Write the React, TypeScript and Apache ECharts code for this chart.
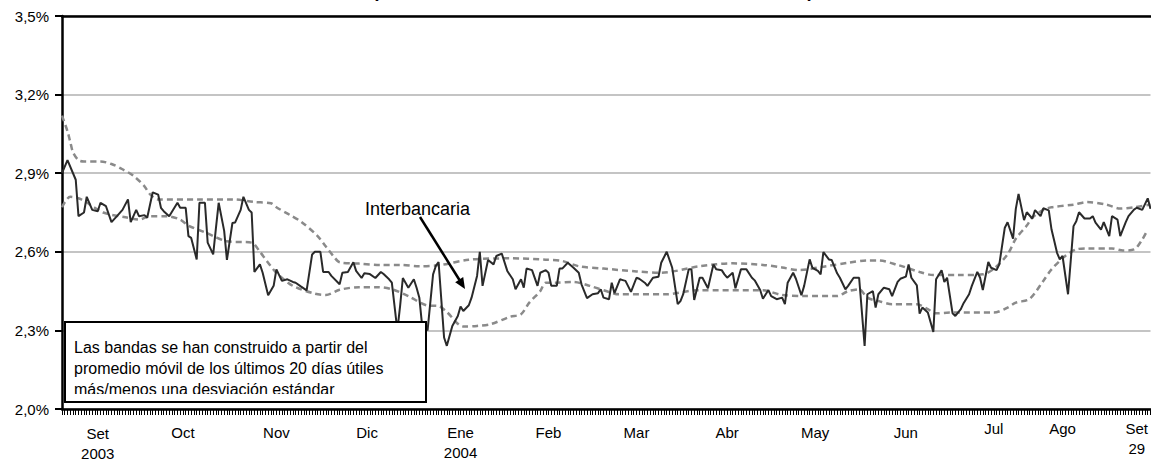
import React, { useEffect, useRef } from "react";
import * as echarts from "echarts";

const FONT = '"Liberation Sans", Arial, Helvetica, sans-serif';

const titleText = "(1 de setiembre de 2003 al 29 de setiembre de 2004)";
const seriesName = "Interbancaria";
const noteLines = [
  "Las bandas se han construido a partir del",
  "promedio móvil de los últimos 20 días útiles",
  "más/menos una desviación estándar",
];

// y axis ticks (percent)
const yTickValues = [2.0, 2.3, 2.6, 2.9, 3.2, 3.5];

// x axis: calendar days from the start of the axis
const axisDays = 396;
const monthLabels = ["Set", "Oct", "Nov", "Dic", "Ene", "Feb", "Mar", "Abr", "May", "Jun", "Jul", "Ago", "Set"];
const monthSubLabels = ["2003", "", "", "", "2004", "", "", "", "", "", "", "", "29"];
const monthDays = [13, 44, 78, 111, 145, 177, 209, 242, 274, 307, 339, 364, 391];

// interbank rate (%), business days
const rateDays = [
  0, 2, 5, 6, 8, 9, 11, 13, 14, 16, 18, 20, 22, 24, 25, 27, 28, 30, 31, 33, 35, 36, 37, 39, 42, 43, 45, 46, 47, 49,
  50, 52, 53, 55, 56, 57, 59, 60, 62, 63, 65, 66, 68, 69, 70, 72, 73, 75, 77, 78, 80, 82, 84, 85, 87, 89, 91, 92, 94, 95,
  97, 98, 101, 102, 104, 106, 107, 109, 110, 112, 114, 116, 117, 119, 120, 122, 123, 124, 126, 128, 129, 130, 131, 133, 135, 136, 137,
  139, 140, 142, 144, 145, 146, 148, 149, 151, 152, 153, 155, 157, 158, 160, 162, 164, 165, 167, 168, 169, 171, 173, 174,
  176, 177, 178, 180, 181, 182, 184, 186, 188, 189, 191, 193, 195, 196, 197, 199, 200, 201, 203, 204, 205, 207, 209, 210, 212,
  213, 215, 217, 218, 220, 222, 224, 225, 226, 228, 229, 230, 232, 233, 235, 237, 238, 240, 241, 242, 244, 245, 247, 248, 249,
  251, 252, 254, 255, 257, 258, 260, 262, 263, 264, 266, 267, 269, 270, 272,
  273, 275, 276, 277, 279, 280, 282, 283, 285, 286, 288, 289, 290, 292, 293, 295, 296, 297, 299, 301, 302, 304, 305, 307, 308,
  309, 311, 312, 313, 315, 317, 318, 320, 321, 322, 324, 325, 327, 328, 330, 331, 333, 334, 335, 337, 338, 340, 341, 343, 344,
  346, 347, 348, 350, 351, 353, 354, 356, 357, 359, 360, 361, 362, 363, 364, 366, 368, 369, 370, 372, 374, 375, 376, 378, 379,
  381, 382, 384, 385, 387, 388, 390, 391, 393, 395, 396,
];
const rateValues = [
  2.9, 2.95, 2.875, 2.736, 2.75, 2.81, 2.76, 2.755, 2.787, 2.774, 2.713, 2.736, 2.76, 2.8, 2.713, 2.76, 2.736, 2.74, 2.73, 2.827,
  2.818, 2.768, 2.755, 2.736, 2.787, 2.768, 2.768, 2.66, 2.653, 2.571, 2.787, 2.787, 2.635, 2.59, 2.69, 2.787, 2.68, 2.569, 2.71, 2.712,
  2.76, 2.81, 2.76, 2.75, 2.523, 2.552, 2.52, 2.434, 2.47, 2.533, 2.489, 2.495, 2.485, 2.482, 2.467, 2.453, 2.59, 2.6, 2.6, 2.523,
  2.523, 2.508, 2.476, 2.52, 2.523, 2.56, 2.527, 2.5, 2.518, 2.515, 2.5, 2.523, 2.515, 2.495, 2.482, 2.3, 2.393, 2.5, 2.463, 2.495,
  2.463, 2.425, 2.32, 2.3, 2.514, 2.546, 2.561,
  2.273, 2.241, 2.317, 2.355, 2.391, 2.374, 2.396, 2.425, 2.508, 2.6, 2.47, 2.569, 2.552, 2.584, 2.593, 2.527, 2.495, 2.457, 2.495, 2.463,
  2.536, 2.53, 2.47, 2.52, 2.53, 2.52, 2.47, 2.47, 2.536, 2.536, 2.558, 2.54, 2.52, 2.476, 2.423, 2.438, 2.442, 2.457, 2.425, 2.419,
  2.482, 2.442, 2.495, 2.492, 2.489, 2.447, 2.501, 2.497, 2.482, 2.47, 2.501, 2.505, 2.558, 2.6, 2.539, 2.4, 2.412, 2.438, 2.533, 2.533,
  2.416, 2.501, 2.501, 2.461, 2.552, 2.533, 2.53, 2.514, 2.501, 2.52, 2.461, 2.533, 2.533, 2.533, 2.501, 2.491, 2.454, 2.421, 2.454, 2.431,
  2.419, 2.425, 2.4, 2.482, 2.52, 2.497, 2.434, 2.47, 2.571,
  2.539, 2.527, 2.514, 2.599, 2.571, 2.569, 2.518, 2.501, 2.457, 2.47, 2.501, 2.501, 2.501, 2.241, 2.438, 2.45, 2.387, 2.438, 2.463, 2.457,
  2.431, 2.485, 2.497, 2.505, 2.552, 2.501, 2.472, 2.364, 2.387, 2.368, 2.294, 2.495, 2.53, 2.485, 2.501, 2.365, 2.355, 2.381, 2.404, 2.438,
  2.47, 2.523, 2.501, 2.454, 2.561, 2.539, 2.53, 2.552, 2.692, 2.713, 2.65, 2.764, 2.821, 2.721, 2.751, 2.727, 2.759, 2.736, 2.766, 2.758,
  2.685, 2.641, 2.596, 2.571, 2.584, 2.438, 2.698, 2.717, 2.751, 2.727, 2.727, 2.736, 2.711, 2.685, 2.713, 2.66, 2.736, 2.723, 2.66, 2.713,
  2.736, 2.761, 2.768, 2.76, 2.804, 2.764,
];

// upper band: moving average + 1 std dev
const upperDays = [
  0, 2, 3, 4, 6, 8, 14, 18, 22, 26, 30, 32, 35, 50, 62, 70, 76, 78, 83, 87, 93, 96, 99, 101, 108, 116, 123, 130, 138, 148,
  163, 176, 182, 188, 197, 209, 218, 232, 244, 255, 262, 268, 278, 286, 293, 297, 304, 312, 317, 326, 335, 339, 344, 347, 351,
  353, 357, 360, 368, 373, 380, 385, 390, 396,
];
const upperValues = [
  3.12, 3.06, 3.02, 2.98, 2.95, 2.945, 2.945, 2.935, 2.915, 2.89, 2.85, 2.82, 2.8, 2.8, 2.8, 2.79, 2.785, 2.77, 2.74, 2.715,
  2.66, 2.62, 2.58, 2.56, 2.555, 2.55, 2.55, 2.545, 2.55, 2.57, 2.575, 2.57, 2.565, 2.545, 2.536, 2.525, 2.52, 2.545, 2.556, 2.55,
  2.54, 2.53, 2.545, 2.558, 2.567, 2.567, 2.55, 2.523, 2.511, 2.511, 2.514, 2.535, 2.59, 2.65, 2.7, 2.73, 2.76, 2.77, 2.78, 2.79,
  2.78, 2.765, 2.77, 2.78,
];

// lower band: moving average - 1 std dev
const lowerDays = [
  0, 3, 7, 15, 24, 28, 32, 38, 43, 46, 53, 55, 60, 69, 72, 75, 78, 84, 92, 96, 101, 108, 115, 120, 126, 133, 137, 140, 146, 151,
  156, 163, 167, 170, 174, 176, 180, 186, 192, 201, 203, 220, 231, 255, 262, 270, 282, 286, 290, 293, 297, 302, 311, 315, 318,
  323, 339, 344, 347, 352, 357, 360, 365, 369, 373, 382, 386, 390, 393, 395,
];
const lowerValues = [
  2.77, 2.81, 2.8, 2.75, 2.73, 2.723, 2.736, 2.736, 2.723, 2.7, 2.67, 2.66, 2.64, 2.635, 2.6, 2.558, 2.52, 2.47, 2.44, 2.435,
  2.455, 2.465, 2.465, 2.457, 2.431, 2.395, 2.393, 2.37, 2.315, 2.317, 2.324, 2.352, 2.362, 2.406, 2.45, 2.482, 2.482, 2.485, 2.47, 2.44,
  2.438, 2.438, 2.453, 2.453, 2.435, 2.431, 2.431, 2.45, 2.457, 2.425, 2.412, 2.4, 2.4, 2.381, 2.365, 2.368, 2.368, 2.387, 2.406, 2.42,
  2.489, 2.533, 2.584, 2.609, 2.613, 2.613, 2.605, 2.609, 2.647, 2.685,
];

const dayCategories = Array.from({ length: axisDays + 1 }, (_, i) => String(i));
const pairs = (xs: number[], ys: number[]) => xs.map((x, i) => [x, ys[i]]);

export default function App() {
  const ref = useRef<HTMLDivElement>(null);

  useEffect(() => {
    if (!ref.current) return;
    const chart = echarts.init(ref.current, undefined, { renderer: "svg" });

    const bandStyle = { color: "#8a8a8a", width: 2.5, type: [6, 4] as number[] };
    const textStyleBase = { fontSize: 15, color: "#000", fontFamily: FONT };

    const option: any = {
      animation: false,
      backgroundColor: "#ffffff",
      textStyle: { fontFamily: FONT },
      grid: { left: 62, top: 16, right: 0, height: 393 },
      xAxis: [
        {
          type: "category",
          data: dayCategories,
          boundaryGap: false,
          position: "bottom",
          axisLine: { show: true, onZero: false, lineStyle: { color: "#000", width: 2.5 } },
          axisTick: { show: true, interval: 0, length: 6, lineStyle: { color: "#000", width: 1 } },
          splitLine: { show: false },
          axisLabel: {
            show: true,
            margin: 9,
            ...textStyleBase,
            interval: (index: number) => monthDays.indexOf(index) >= 0,
            formatter: (_value: string, index: number) => {
              const i = monthDays.indexOf(index);
              if (i < 0) return "";
              const gap = i === 0 ? "{g9| }\n" : i >= 10 ? "" : "{g4| }\n";
              const sub = monthSubLabels[i];
              return gap + `{t|${monthLabels[i]}}` + (sub ? `\n{t|${sub}}` : "");
            },
            rich: {
              g9: { lineHeight: 5, fontSize: 5, height: 5 },
              g4: { lineHeight: 4, fontSize: 4, height: 4 },
              t: { lineHeight: 20, ...textStyleBase },
            },
          },
        },
        {
          type: "value",
          min: 0,
          max: axisDays,
          position: "top",
          axisLine: { show: true, onZero: false, lineStyle: { color: "#000", width: 2.5 } },
          axisTick: { show: false },
          axisLabel: { show: false },
          splitLine: { show: false },
        },
      ],
      yAxis: {
        type: "value",
        min: yTickValues[0],
        max: yTickValues[yTickValues.length - 1],
        interval: 0.3,
        axisLine: { show: true, lineStyle: { color: "#000", width: 2.5 } },
        axisTick: { show: true, length: 7, lineStyle: { color: "#000", width: 2 } },
        axisLabel: {
          margin: 13,
          ...textStyleBase,
          formatter: (v: number) => v.toFixed(1).replace(".", ",") + "%",
        },
        splitLine: { show: true, lineStyle: { color: "#c4c4c4", width: 2 } },
      },
      series: [
        {
          name: "Banda superior",
          type: "line",
          xAxisIndex: 0,
          data: pairs(upperDays, upperValues),
          showSymbol: false,
          symbol: "none",
          smooth: 0.3,
          lineStyle: bandStyle,
          z: 2,
        },
        {
          name: "Banda inferior",
          type: "line",
          xAxisIndex: 0,
          data: pairs(lowerDays, lowerValues),
          showSymbol: false,
          symbol: "none",
          smooth: 0.3,
          lineStyle: bandStyle,
          z: 2,
        },
        {
          name: seriesName,
          type: "line",
          xAxisIndex: 0,
          data: pairs(rateDays, rateValues),
          showSymbol: false,
          symbol: "none",
          lineStyle: { color: "#2a2a2a", width: 2 },
          z: 3,
        },
      ],
      graphic: [
        {
          type: "text",
          x: 593,
          y: -9.5,
          z: 100,
          style: {
            text: titleText,
            fill: "#000",
            font: `bold 18px ${FONT}`,
            align: "center",
            textAlign: "center",
            verticalAlign: "middle",
            textVerticalAlign: "middle",
          },
        },
        {
          type: "text",
          x: 365,
          y: 209,
          z: 100,
          style: {
            text: seriesName,
            fill: "#000",
            font: `18px ${FONT}`,
            align: "left",
            textAlign: "left",
            verticalAlign: "middle",
            textVerticalAlign: "middle",
          },
        },
        {
          type: "line",
          z: 100,
          shape: { x1: 420, y1: 217, x2: 459.5, y2: 280 },
          style: { stroke: "#000", lineWidth: 2.5 },
        },
        {
          type: "polygon",
          z: 100,
          shape: { points: [[465, 289], [455.2, 282.3], [463.2, 277.1]] },
          style: { fill: "#000" },
        },
        {
          type: "rect",
          z: 100,
          shape: { x: 65, y: 322, width: 361, height: 80 },
          style: { fill: "#fff", stroke: "#000", lineWidth: 2 },
        },
        ...noteLines.map((t, i) => ({
          type: "text",
          x: 74,
          y: 347.5 + i * 21,
          z: 101,
          style: {
            text: t,
            fill: "#000",
            font: `16px ${FONT}`,
            align: "left",
            textAlign: "left",
            verticalAlign: "middle",
            textVerticalAlign: "middle",
          },
        })),
        {
          type: "rect",
          z: 102,
          shape: { x: 66, y: 394, width: 359, height: 7 },
          style: { fill: "#fff", lineWidth: 0 },
        },
      ],
    };

    chart.setOption(option);
    return () => chart.dispose();
  }, []);

  return (
    <div
      ref={ref}
      style={{ position: "absolute", left: 0, top: 0, width: 1151, height: 463, background: "#fff" }}
    />
  );
}
